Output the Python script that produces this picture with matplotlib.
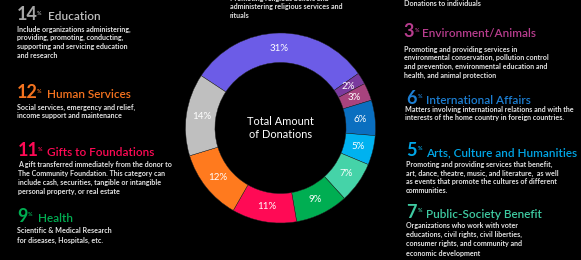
import matplotlib
matplotlib.use('Agg')
import matplotlib.pyplot as plt

plt.rcParams['font.family'] = ['Lato', 'DejaVu Sans']

# donut data (clockwise from the top-left)
shares = [31, 2, 3, 6, 5, 7, 9, 11, 12, 14]
slice_colors = ['#6C5CE7', '#7A3A9E', '#A8437E', '#0A6FC0', '#00B2F0',
                '#45D3A8', '#00AE52', '#FF0A55', '#FF7A1E', '#BFBFBF']

# legend blocks
pct_values = ['14', '12', '11', '9', '3', '6', '5', '7']
titles = ['Education', 'Human Services', 'Gifts to Foundations', 'Health',
          'Environment/Animals', 'International Affairs',
          'Arts, Culture and Humanities', 'Public-Society Benefit']
descriptions = [
    ['Include organizations administering,',
     'providing, promoting, conducting,',
     'supporting and servicing education',
     'and research'],
    ['Social services, emergency and relief,',
     'income support and maintenance'],
    ['A gift transferred immediately from the donor to',
     'The Community Foundation. This category can',
     'include cash, securities, tangible or intangible',
     'personal property, or real estate'],
    ['Scientific & Medical Research',
     'for diseases, Hospitals, etc.'],
    ['Promoting and providing services in',
     'environmental conservation, pollution control',
     'and prevention, environmental education and',
     'health, and animal protection'],
    ['Matters involving international relations and with the',
     'interests of the home country in foreign countries.'],
    ['Promoting and providing services that benefit,',
     'art, dance, theatre, music, and literature,  as well',
     'as events that promote the cultures of different',
     'communities.'],
    ['Organizations who work with voter',
     'educations, civil rights, civil liberties,',
     'consumer rights, and community and',
     'economic development'],
]
title_colors = ['#BFBFBF', '#F5731F', '#FF0A55', '#00AE52',
                '#B83D8E', '#1C7ED2', '#00A6E6', '#3FCBA2']
num_colors = ['#A6A6A6', '#F5731F', '#FF0A55', '#00AE52',
              '#B83D8E', '#1C7ED2', '#00A6E6', '#3FCBA2']

top_center_text = ['Promoting religious beliefs and',
                   'administering religious services and',
                   'rituals']
top_right_text = ['Donations to individuals']

W, H = 581, 260
fig = plt.figure(figsize=(W / 100, H / 100), dpi=100, facecolor='black')

# text layer in pixel coordinates
tx = fig.add_axes([0, 0, 1, 1])
tx.set_xlim(0, W)
tx.set_ylim(H, 0)
tx.axis('off')
tx.set_facecolor('black')

# layout: (number x, pct x, title x, baseline y, desc x, first desc y, spacing)
layout = [
    (17, 37, 48, 20.5, 17, 29.0, 8.8),
    (17, 37, 47, 98.5, 17, 107.0, 8.3),
    (18, 38, 47, 156.5, 18, 165.0, 8.9),
    (17, 28, 38, 221.5, 17, 230.7, 9.3),
    (403, 415, 422, 37.0, 404, 49.3, 8.6),
    (406, 418, 426.5, 104.0, 405, 109.5, 8.4),
    (406, 418, 426.5, 156.0, 406, 164.3, 8.8),
    (406, 418, 426.5, 218.0, 406, 225.3, 9.3),
]
desc_color = '#E2E2E2'

for i, (nx, px, hx, by, ddx, dy, sp) in enumerate(layout):
    tx.text(nx, by, pct_values[i], color=num_colors[i], fontsize=13,
            fontweight='bold', ha='left', va='baseline')
    tx.text(px, by - 5.5, '%', color=num_colors[i], fontsize=4,
            fontweight='bold', ha='left', va='baseline')
    tx.text(hx, by, titles[i], color=title_colors[i], fontsize=8.5,
            fontweight='semibold', ha='left', va='baseline')
    for j, line in enumerate(descriptions[i]):
        tx.text(ddx, dy + j * sp, line, color=desc_color, fontsize=5.1,
                fontweight='bold', ha='left', va='center')

for j, line in enumerate(top_center_text):
    tx.text(230, -1.5 + j * 8.3, line, color=desc_color, fontsize=5.1,
            fontweight='bold', ha='left', va='center')
for j, line in enumerate(top_right_text):
    tx.text(404, 3, line, color=desc_color, fontsize=5.1,
            fontweight='bold', ha='left', va='center')

# donut
cx, cy, r = 280.5, 128, 95
ax = fig.add_axes([(cx - r) / W, (H - cy - r) / H, 2 * r / W, 2 * r / H])
ax.set_facecolor('none')
wedges, texts = ax.pie(shares, colors=slice_colors, startangle=146.6,
                       counterclock=False,
                       labels=[f'{s}%' for s in shares], labeldistance=0.84,
                       wedgeprops=dict(width=0.31, edgecolor='#222222',
                                       linewidth=0.3),
                       textprops=dict(color='white', fontsize=7,
                                      ha='center', va='center'))
ax.set_xlim(-1, 1)
ax.set_ylim(-1, 1)
ax.text(0, 0, 'Total Amount\nof Donations', color='white', fontsize=7.9,
        ha='center', va='center', linespacing=1.2)

fig.savefig('out.png', dpi=100, facecolor='black')
